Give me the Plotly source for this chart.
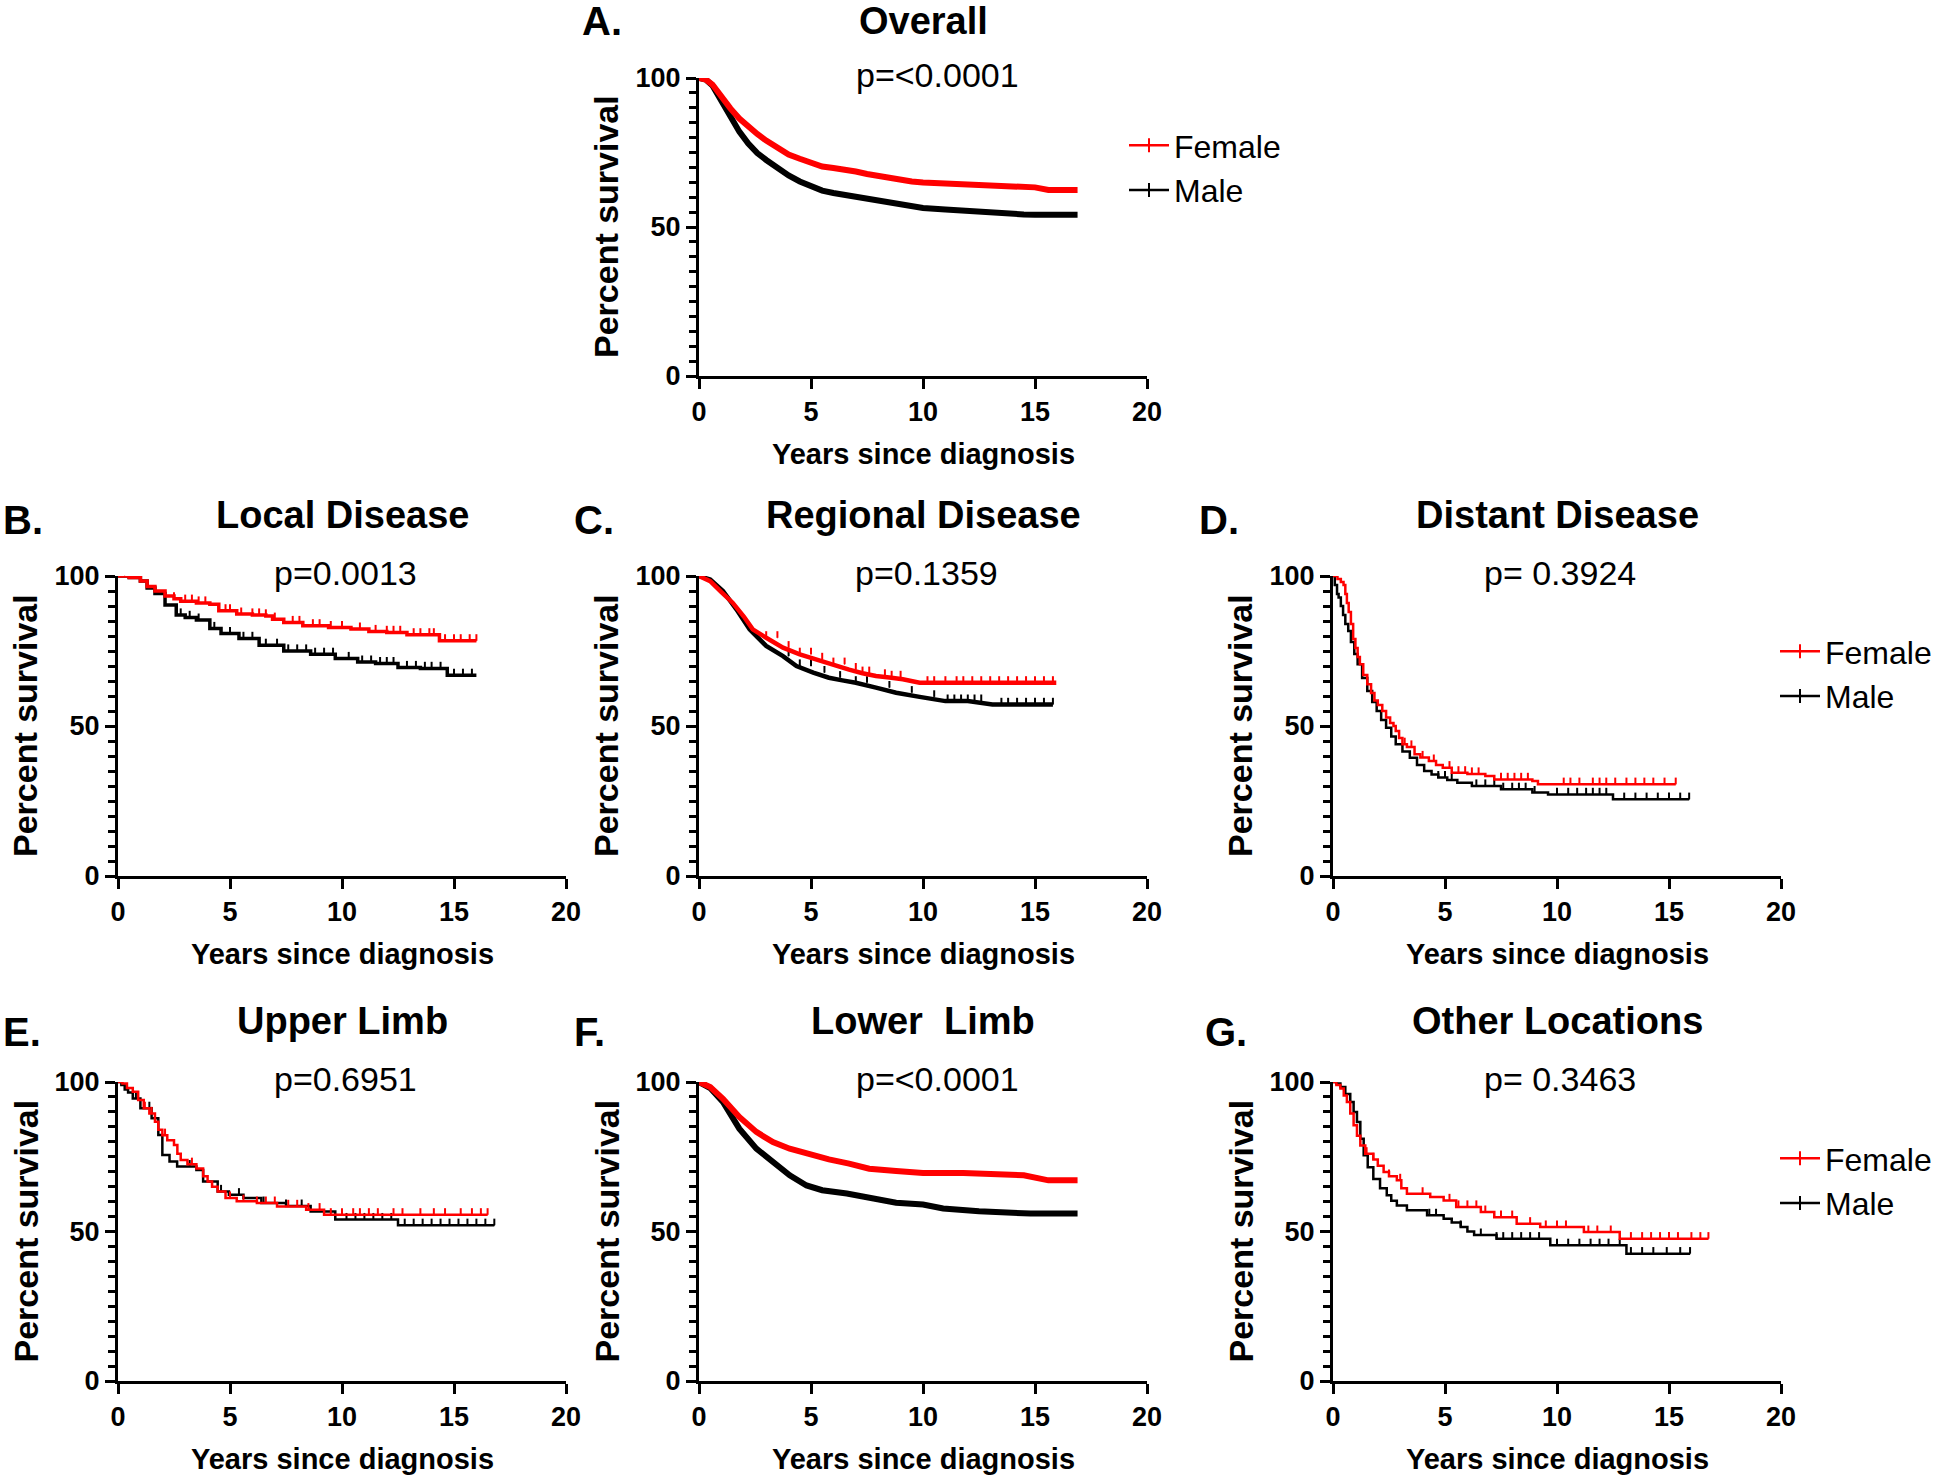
import bisect
import plotly.graph_objects as go

# ---- data (years since diagnosis, percent survival) ----
overall_f_years = [0, 0.3, 0.6, 1.0, 1.4, 1.8, 2.2, 2.6, 3.0, 3.5, 4.0, 4.5, 5.0, 5.5, 6.0, 6.5, 7.0, 7.5, 8.0, 8.5, 9.0, 9.5, 10.0, 11.0, 12.0, 13.0, 14.0, 14.5, 15.0, 15.6, 16.9]
overall_f_pct = [100, 99.5, 97.8, 93.5, 89.8, 86.4, 83.5, 81.2, 79.0, 76.5, 74.3, 72.9, 71.6, 70.3, 69.8, 69.4, 68.6, 67.8, 67.1, 66.5, 65.9, 65.3, 64.9, 64.6, 64.4, 64.2, 64.0, 63.5, 63.3, 62.4, 62.4]
overall_m_years = [0, 0.3, 0.6, 1.0, 1.4, 1.8, 2.2, 2.6, 3.0, 3.5, 4.0, 4.5, 5.0, 5.5, 6.0, 6.5, 7.0, 7.5, 8.0, 8.5, 9.0, 9.5, 10.0, 11.0, 12.0, 13.0, 14.0, 14.5, 15.0, 15.6, 16.9]
overall_m_pct = [100, 99.5, 97.5, 92.0, 87.0, 82.0, 78.0, 74.8, 72.5, 69.8, 67.3, 65.3, 63.6, 62.2, 61.4, 60.8, 60.1, 59.6, 59.0, 58.4, 57.8, 57.2, 56.4, 55.9, 55.3, 54.9, 54.6, 54.2, 54.1, 54.1, 54.1]
overall_f_censor = []
overall_m_censor = []

local_f_years = [0, 0.5, 1.0, 1.3, 1.65, 2.1, 2.5, 2.8, 3.5, 4.1, 4.5, 5.3, 6.0, 6.6, 6.9, 7.4, 8.25, 9.4, 10.4, 11.2, 12.0, 12.9, 14.35, 16.0]
local_f_pct = [100, 99.5, 98.3, 96.5, 95.0, 93.3, 92.4, 91.6, 91.0, 90.6, 88.4, 87.3, 87.0, 86.7, 85.6, 84.5, 83.4, 82.8, 82.3, 81.5, 81.2, 80.4, 78.4, 78.4]
local_m_years = [0, 0.5, 1.0, 1.3, 1.65, 2.1, 2.6, 3.0, 3.5, 4.1, 4.6, 5.4, 6.3, 7.4, 8.6, 9.7, 10.7, 11.5, 12.5, 13.5, 14.7, 16.0]
local_m_pct = [100, 99.5, 98.3, 96.0, 94.2, 90.3, 87.0, 86.2, 85.3, 82.5, 80.8, 79.2, 76.9, 75.0, 73.9, 72.5, 71.3, 70.8, 69.5, 69.2, 66.9, 66.9]
local_f_censor = [0.3, 1.0, 2.5, 3.0, 3.3, 3.6, 3.9, 4.8, 5.0, 5.5, 6.0, 6.3, 6.6, 7.0, 7.8, 8.1, 8.7, 9.0, 9.5, 10.0, 10.8, 11.5, 12.0, 12.3, 12.6, 13.2, 13.5, 13.9, 14.1, 14.6, 15.0, 15.3, 15.7, 16.0]
local_m_censor = [2.8, 3.2, 3.6, 4.3, 5.0, 5.6, 6.0, 6.6, 7.1, 7.6, 8.0, 8.4, 8.8, 9.2, 9.6, 10.3, 10.9, 11.3, 11.7, 12.0, 12.3, 12.9, 13.3, 13.7, 14.0, 14.4, 15.0, 15.4, 15.8]

regional_f_years = [0, 0.5, 1.0, 1.5, 2.0, 2.4, 3.0, 3.75, 4.5, 5.2, 6.0, 6.7, 7.3, 7.9, 8.5, 9.1, 9.85, 11.0, 12.5, 14.0, 15.95]
regional_f_pct = [100, 98.3, 94.6, 91.1, 86.5, 82.2, 79.4, 76.1, 73.9, 72.2, 70.6, 68.8, 67.6, 66.7, 66.2, 65.6, 64.4, 64.4, 64.4, 64.4, 64.4]
regional_m_years = [0, 0.5, 1.07, 1.67, 2.26, 3.0, 3.75, 4.35, 5.1, 5.8, 6.4, 7.0, 7.9, 8.8, 9.85, 11.0, 12.0, 13.1, 14.5, 15.8]
regional_m_pct = [100, 98.8, 95.0, 88.9, 82.2, 76.7, 73.3, 70.0, 67.8, 66.1, 65.2, 64.4, 62.8, 61.1, 59.7, 58.3, 58.3, 57.2, 57.2, 57.2]
regional_f_censor = [3.0, 3.5, 4.0, 4.5, 5.0, 5.5, 6.0, 6.5, 7.0, 7.3, 7.6, 8.3, 8.6, 9.0, 10.2, 10.5, 11.0, 11.5, 11.8, 12.2, 12.6, 13.0, 13.4, 13.8, 14.2, 14.6, 15.0, 15.4, 15.8]
regional_m_censor = [4.0, 4.5, 5.0, 5.6, 6.3, 7.0, 7.5, 8.5, 9.5, 10.5, 11.1, 11.4, 11.7, 12.0, 12.3, 12.6, 13.5, 13.8, 14.2, 14.6, 15.0, 15.4, 15.8]

distant_f_years = [0, 0.1, 0.2, 0.35, 0.47, 0.55, 0.62, 0.7, 0.8, 0.9, 1.0, 1.1, 1.2, 1.35, 1.53, 1.7, 1.85, 2.0, 2.2, 2.37, 2.55, 2.7, 2.8, 2.95, 3.1, 3.3, 3.64, 3.9, 4.28, 4.6, 4.9, 5.3, 6.0, 6.8, 7.2, 8.9, 9.15, 15.3]
distant_f_pct = [100, 100, 99, 98, 97, 94, 91, 88, 84, 79, 76, 73, 70.6, 67, 63.9, 61, 58.5, 57, 55, 52.8, 51, 50, 48.3, 46, 43.9, 43, 40.6, 39.5, 38.3, 37, 36.1, 34.4, 34, 33.3, 32.2, 31.7, 30.6, 30.6]
distant_m_years = [0, 0.08, 0.18, 0.25, 0.35, 0.45, 0.55, 0.68, 0.8, 0.95, 1.1, 1.3, 1.53, 1.75, 1.95, 2.15, 2.37, 2.6, 2.8, 3.1, 3.43, 3.75, 4.07, 4.4, 4.7, 5.1, 5.55, 6.2, 7.5, 8.9, 9.6, 12.5, 15.9]
distant_m_pct = [100, 97, 94, 92.8, 90, 87, 84, 81.7, 78, 74, 70.6, 66, 61.7, 58, 55, 52, 49.4, 46.5, 43.9, 41.5, 39.4, 37, 35, 33.8, 32.8, 32, 31.1, 30, 28.9, 27.8, 27.2, 25.6, 25.6]
distant_f_censor = [3.2, 3.5, 4.0, 4.5, 5.2, 5.6, 5.9, 6.2, 6.5, 7.5, 7.8, 8.1, 8.4, 8.7, 10.3, 10.6, 11.0, 11.6, 11.9, 12.2, 12.6, 13.1, 13.5, 13.9, 14.3, 14.8, 15.3]
distant_m_censor = [4.7, 5.0, 5.3, 6.4, 6.8, 7.2, 7.6, 8.0, 8.3, 8.6, 9.0, 10.0, 10.5, 10.9, 11.3, 11.6, 11.9, 12.2, 13.0, 13.5, 14.0, 14.5, 15.0, 15.5, 15.9]

upper_f_years = [0, 0.2, 0.4, 0.66, 0.9, 1.15, 1.4, 1.65, 1.8, 1.98, 2.2, 2.5, 2.65, 2.8, 3.1, 3.5, 3.8, 4.0, 4.2, 4.45, 4.8, 5.3, 6.2, 7.1, 8.4, 9.2, 16.5]
upper_f_pct = [100, 99.5, 98, 96.7, 94.0, 91.2, 89.5, 86.7, 84, 82.2, 80.5, 78.9, 76, 73.9, 72.5, 71.1, 68.5, 66.7, 65, 63.4, 61.2, 60.1, 59.5, 58.4, 57.3, 55.6, 55.6]
upper_m_years = [0, 0.15, 0.3, 0.45, 0.66, 1.0, 1.5, 1.8, 1.98, 2.3, 2.64, 3.5, 3.8, 4.45, 4.95, 5.6, 6.4, 7.5, 8.6, 9.7, 12.5, 16.8]
upper_m_pct = [100, 99, 97.5, 96.5, 94.5, 91.2, 87.9, 82.3, 75.6, 73.4, 71.7, 70.6, 66.7, 63.4, 62.3, 61.2, 59.5, 58.5, 56.7, 54.0, 52.1, 52.1]
upper_f_censor = [1.2, 1.5, 2.1, 3.3, 3.8, 5.0, 5.6, 6.2, 6.6, 7.0, 7.6, 8.0, 8.5, 9.0, 9.5, 10.0, 10.5, 10.8, 11.2, 11.6, 12.3, 12.7, 13.5, 14.1, 14.6, 15.3, 15.8, 16.2, 16.5]
upper_m_censor = [0.8, 1.4, 3.2, 4.6, 5.4, 6.5, 7.5, 8.2, 10.2, 10.6, 11.0, 11.4, 11.8, 12.2, 12.8, 13.2, 13.6, 14.0, 14.4, 14.8, 15.2, 15.6, 16.0, 16.4, 16.8]

lower_f_years = [0, 0.5, 1.07, 1.8, 2.56, 3.3, 4.05, 4.8, 5.8, 6.7, 7.6, 8.8, 10.0, 11.8, 13.5, 14.5, 15.6, 16.9]
lower_f_pct = [100, 98.3, 94.4, 88.3, 83.3, 79.9, 77.7, 76.0, 74.1, 72.7, 71.0, 70.2, 69.6, 69.6, 69.4, 68.8, 67.1, 67.1]
lower_m_years = [0, 0.5, 1.07, 1.8, 2.56, 3.3, 4.05, 4.8, 5.5, 6.6, 7.8, 8.8, 10.0, 10.9, 12.5, 14.8, 16.9]
lower_m_pct = [100, 98.0, 93.3, 84.4, 77.7, 73.2, 68.8, 65.4, 63.8, 62.7, 61.0, 59.6, 59.0, 57.7, 56.8, 56.0, 56.0]
lower_f_censor = []
lower_m_censor = []

other_f_years = [0, 0.15, 0.33, 0.48, 0.62, 0.77, 0.92, 1.07, 1.22, 1.44, 1.8, 2.0, 2.26, 2.5, 2.85, 3.05, 3.3, 4.34, 4.94, 5.5, 6.6, 7.2, 8.2, 9.25, 11.2, 12.8, 16.76]
other_f_pct = [100, 99, 97.8, 95.5, 93.3, 89.5, 85.5, 82, 78.8, 76.0, 74.1, 72, 69.9, 68.5, 67.1, 64.5, 62.6, 61.5, 60.4, 58.2, 56.5, 54.8, 52.6, 51.5, 49.8, 47.6, 47.6]
other_m_years = [0, 0.15, 0.33, 0.55, 0.77, 0.92, 1.07, 1.22, 1.37, 1.55, 1.8, 2.1, 2.4, 2.6, 2.85, 3.3, 4.2, 4.94, 5.3, 5.7, 6.0, 6.3, 7.3, 9.7, 13.1, 15.94]
other_m_pct = [100, 99.5, 98.3, 96, 93.3, 90, 86.6, 81, 75.5, 71.5, 67.6, 64.5, 62.1, 60.3, 58.7, 57.1, 55.4, 54.3, 53, 51.5, 50, 48.8, 47.6, 45.4, 42.6, 42.6]
other_f_censor = [1.5, 1.8, 2.5, 3.0, 4.0, 5.2, 5.6, 6.0, 6.4, 6.8, 7.5, 8.0, 8.8, 9.5, 10.0, 10.4, 11.4, 11.8, 12.4, 13.3, 13.8, 14.2, 14.6, 15.0, 15.4, 16.0, 16.4, 16.76]
other_m_censor = [4.3, 4.6, 5.7, 6.6, 7.3, 7.6, 8.0, 8.4, 8.8, 9.2, 10.0, 10.5, 11.0, 11.5, 11.9, 12.3, 12.8, 13.3, 13.8, 14.3, 14.9, 15.5, 15.94]

W, H = 1946, 1477
FONT = "Liberation Sans, Arial, sans-serif"
RED = "#ff0000"
TICK = 2.2  # censor tick height in % units

cols = [(118, 566), (699, 1147), (1333, 1781)]
rows = [(78, 376), (576, 876), (1082, 1381)]
letter_x = [[580, 580, 580], [1, 572, 1197], [1, 572, 1203]]
letter_y = [21, 520, 1032]
title_y = [21, 515, 1021]

panels = [
    ("A.", "Overall", "p=<0.0001", 1, 0, (overall_f_years, overall_f_pct, overall_f_censor), (overall_m_years, overall_m_pct, overall_m_censor), "linear", 6, "legend"),
    ("B.", "Local Disease", "p=0.0013", 0, 1, (local_f_years, local_f_pct, local_f_censor), (local_m_years, local_m_pct, local_m_censor), "hv", 3.5, None),
    ("C.", "Regional Disease", "p=0.1359", 1, 1, (regional_f_years, regional_f_pct, regional_f_censor), (regional_m_years, regional_m_pct, regional_m_censor), "linear", 4.5, None),
    ("D.", "Distant Disease", "p= 0.3924", 2, 1, (distant_f_years, distant_f_pct, distant_f_censor), (distant_m_years, distant_m_pct, distant_m_censor), "hv", 2.5, "legend2"),
    ("E.", "Upper Limb", "p=0.6951", 0, 2, (upper_f_years, upper_f_pct, upper_f_censor), (upper_m_years, upper_m_pct, upper_m_censor), "hv", 2.5, None),
    ("F.", "Lower  Limb", "p=<0.0001", 1, 2, (lower_f_years, lower_f_pct, lower_f_censor), (lower_m_years, lower_m_pct, lower_m_censor), "linear", 6, None),
    ("G.", "Other Locations", "p= 0.3463", 2, 2, (other_f_years, other_f_pct, other_f_censor), (other_m_years, other_m_pct, other_m_censor), "hv", 2.5, "legend3"),
]


def px_x(x):
    return x / W


def px_y(y):
    return 1 - y / H


def step_value(years, pct, t):
    # survival at time t on the step curve
    return pct[max(bisect.bisect_right(years, t) - 1, 0)]


fig = go.Figure()
annotations = []
layout = {}

for i, (letter, title, ptext, c, r, fem, mal, shape, width, leg) in enumerate(panels):
    n = "" if i == 0 else str(i + 1)
    x0, x1 = cols[c]
    y0, y1 = rows[r]
    cx = (x0 + x1) / 2
    cy = (y0 + y1) / 2
    for name, (t, s, cens), color in (("Male", mal, "black"), ("Female", fem, RED)):
        fig.add_trace(go.Scatter(
            x=t, y=s, xaxis="x" + n, yaxis="y" + n, mode="lines",
            line=dict(color=color, width=width, shape=shape),
            cliponaxis=False, showlegend=False,
        ))
        if cens:
            # censored cases: short upward ticks sitting on the curve
            fig.add_trace(go.Scatter(
                x=cens, y=[step_value(t, s, v) for v in cens], xaxis="x" + n, yaxis="y" + n,
                mode="markers", marker=dict(size=1, color=color),
                error_y=dict(type="data", symmetric=False, array=[TICK] * len(cens),
                             arrayminus=[0] * len(cens), width=0, thickness=2, color=color),
                cliponaxis=False, showlegend=False,
            ))
    if leg:
        for name, color in (("Female", RED), ("Male", "black")):
            fig.add_trace(go.Scatter(
                x=[None], y=[None], name=name, xaxis="x" + n, yaxis="y" + n,
                mode="lines+markers", line=dict(color=color, width=2.5),
                marker=dict(symbol="line-ns", size=10, line=dict(color=color, width=2)),
                legend=leg,
            ))
    axis_font = dict(family=FONT, size=27, color="black", weight="bold")
    layout["xaxis" + n] = dict(
        domain=[px_x(x0), px_x(x1)], anchor="y" + n, range=[0, 20], automargin=False,
        tickvals=[0, 5, 10, 15, 20], ticks="outside", ticklen=10, tickwidth=3, tickcolor="black",
        showline=True, linewidth=3, linecolor="black", showgrid=False, zeroline=False,
        tickfont=axis_font,
    )
    layout["yaxis" + n] = dict(
        domain=[px_y(y1), px_y(y0)], anchor="x" + n, range=[0, 100], automargin=False,
        tickvals=[0, 50, 100], ticks="outside", ticklen=10, tickwidth=3, tickcolor="black",
        minor=dict(ticks="outside", tick0=0, dtick=5, ticklen=7, tickwidth=2.5, tickcolor="black"),
        showline=True, linewidth=3, linecolor="black", showgrid=False, zeroline=False,
        tickfont=axis_font,
    )
    annotations += [
        dict(text="<b>" + letter + "</b>", x=px_x(letter_x[r][c]), y=px_y(letter_y[r]),
             xanchor="left", yanchor="middle", font=dict(size=40)),
        dict(text="<b>" + title + "</b>", x=px_x(cx), y=px_y(title_y[r]),
             xanchor="center", yanchor="middle", font=dict(size=38)),
        dict(text=ptext, x=px_x(cx + (14 if i in (0, 5) else 3)), y=px_y(y0 - 3),
             xanchor="center", yanchor="middle", font=dict(size=34)),
        dict(text="<b>Years since diagnosis</b>", x=px_x(cx), y=px_y(y1 + 78),
             xanchor="center", yanchor="middle", font=dict(size=29)),
        dict(text="<b>Percent survival</b>", x=px_x(x0 - 93), y=px_y(cy), textangle=-90,
             xanchor="center", yanchor="middle", font=dict(size=34)),
    ]

for key, (lx, ly) in {"legend": (1124, 118), "legend2": (1775, 624), "legend3": (1775, 1131)}.items():
    layout[key] = dict(x=px_x(lx), y=px_y(ly), xanchor="left", yanchor="top",
                       font=dict(family=FONT, size=32, color="black"),
                       bgcolor="rgba(0,0,0,0)", tracegroupgap=0, itemwidth=40)

fig.update_layout(
    width=W, height=H, margin=dict(l=0, r=0, t=0, b=0, autoexpand=False),
    plot_bgcolor="white", paper_bgcolor="white",
    font=dict(family=FONT, color="black"),
    annotations=annotations, **layout,
)
for ann in fig.layout.annotations:
    ann.update(xref="paper", yref="paper", showarrow=False)

# figure fills the whole page: drop the default body margin
fig.write_html("out.html", config={"displayModeBar": False},
               post_script="document.body.style.margin = '0';")
